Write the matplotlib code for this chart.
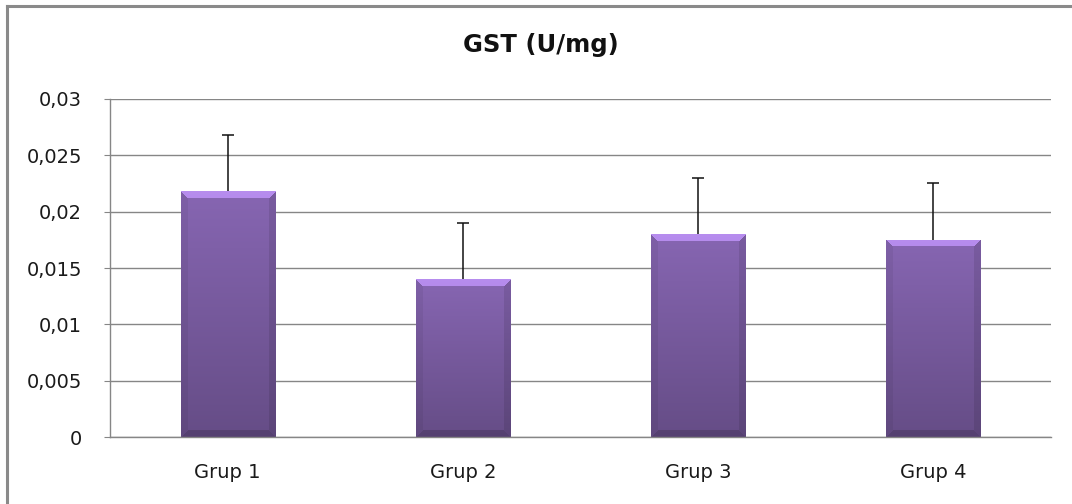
import numpy as np
import matplotlib
matplotlib.use("Agg")
import matplotlib.pyplot as plt
from matplotlib.colors import to_rgb
from matplotlib.lines import Line2D

categories = ["Grup 1", "Grup 2", "Grup 3", "Grup 4"]
values = [0.0218, 0.0140, 0.0180, 0.0175]
errors = [0.0050, 0.0050, 0.0050, 0.0050]
yticks = [0, 0.005, 0.01, 0.015, 0.02, 0.025, 0.03]
ytick_labels = ["0", "0,005", "0,01", "0,015", "0,02", "0,025", "0,03"]
title = "GST (U/mg)"

plt.rcParams["font.family"] = ["DejaVu Sans"]

W, H = 10.72, 5.04
fig = plt.figure(figsize=(W, H), dpi=100)
fig.patch.set_facecolor("white")
ax_rect = [0.1026, 0.1329, 0.8778, 0.6707]
ax = fig.add_axes(ax_rect)

x = np.arange(len(categories))
bar_w = 0.40
grid_c = "#868686"
ymax = 0.03

ax.set_xlim(-0.5, len(categories) - 0.5)
ax.set_ylim(0, ymax)
ax.set_yticks(yticks)
ax.set_yticklabels(ytick_labels)
ax.set_xticks(x)
ax.set_xticklabels(categories)
ax.yaxis.grid(True, color=grid_c, linewidth=1.0)
ax.set_axisbelow(True)
for s in ["top", "right"]:
    ax.spines[s].set_visible(False)
for s in ["left", "bottom"]:
    ax.spines[s].set_color(grid_c)
    ax.spines[s].set_linewidth(1.0)
ax.tick_params(axis="y", length=4, color=grid_c, pad=16, labelsize=14, labelcolor="#1a1a1a")
ax.tick_params(axis="x", length=0, pad=19, labelsize=14, labelcolor="#1a1a1a")

# bars with a bevelled purple fill
bars = ax.bar(x, values, width=bar_w, color="none", edgecolor="none", zorder=2)
base = np.array(to_rgb("#7f60a8"))
ax_w_px = ax_rect[2] * W * 100
ax_h_px = ax_rect[3] * H * 100
bevel = 7.0
side_gain = np.array([1.28, 0.94, 0.90, 0.84])   # top, left, right, bottom
for b in bars:
    x0, w, h = b.get_x(), b.get_width(), b.get_height()
    wpx = int(round(w / len(categories) * ax_w_px))
    hpx = int(round(h / ymax * ax_h_px))
    ii, jj = np.mgrid[0:hpx, 0:wpx].astype(float)   # row 0 = bottom
    d = np.stack([hpx - 1 - ii, jj, wpx - 1 - jj, ii])
    side = np.argmin(d, axis=0)
    dmin = np.min(d, axis=0)
    frac = ii / max(hpx - 1, 1)
    shade = 0.80 + 0.26 * frac
    inb = dmin < bevel
    shade = np.where(inb, shade * side_gain[side], shade)
    img = np.clip(base[None, None, :] * shade[:, :, None], 0, 1)
    top = inb & (side == 0)
    img[top] = np.clip(img[top] + 0.04, 0, 1)
    im = ax.imshow(img, extent=[x0, x0 + w, 0, h], origin="lower",
                   aspect="auto", zorder=2, interpolation="none")
    im.set_clip_path(b)

ax.set_aspect("auto")
ax.set_xlim(-0.5, len(categories) - 0.5)
ax.set_ylim(0, ymax)

# upper error bars only
eb = ax.errorbar(x, values, yerr=[np.zeros(len(errors)), errors], fmt="none",
                 ecolor="#111111", elinewidth=1.1, capsize=4.5, capthick=1.1, zorder=1.9)
caps = eb[1]
if len(caps) == 2:
    caps[0].set_visible(False)   # no cap at the bar top

fig.text(0.505, 0.897, title, ha="center", va="baseline",
         fontsize=17.5, fontweight="bold", color="#111111")

# outer chart frame
fig.add_artist(Line2D([0.0065, 0.0065], [0, 0.988], transform=fig.transFigure,
                      color="#8a8a8a", linewidth=2.2))
fig.add_artist(Line2D([0.0065, 1.0], [0.988, 0.988], transform=fig.transFigure,
                      color="#8a8a8a", linewidth=2.2))

fig.savefig("out.png", dpi=100, facecolor="white")
